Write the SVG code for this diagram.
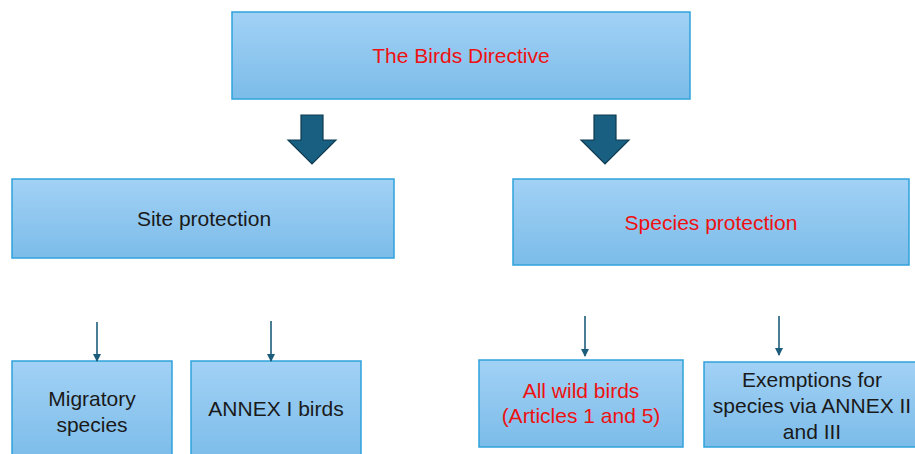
<svg xmlns="http://www.w3.org/2000/svg" width="915" height="454" viewBox="0 0 915 454">
  <defs>
    <linearGradient id="boxFill" x1="0" y1="0" x2="0" y2="1">
      <stop offset="0" stop-color="#a2d1f5"/>
      <stop offset="1" stop-color="#7bbce9"/>
    </linearGradient>
    <marker id="tip" markerWidth="8" markerHeight="8" refX="7" refY="4" orient="auto" markerUnits="userSpaceOnUse">
      <path d="M0,0 L8,4 L0,8 Z" fill="#1d5d7c"/>
    </marker>
    <style>
      .box { fill: url(#boxFill); stroke: #2fa2da; stroke-width: 1.5; }
      .lbl { font-family: "Liberation Sans", Arial, sans-serif; font-size: 21px; text-anchor: middle; fill: #1a1a1a; }
      .red { fill: #ee1111; }
      .big { fill: #195f81; stroke: #0e3a50; stroke-width: 1.2; }
      .thin { stroke: #1d5d7c; stroke-width: 1.6; fill: none; marker-end: url(#tip); }
    </style>
  </defs>

  <g id="birds-directive">
    <rect class="box" x="232" y="12" width="458" height="87"/>
    <text class="lbl red" x="461" y="63">The Birds Directive</text>
  </g>

  <g id="site-protection">
    <rect class="box" x="12" y="179" width="382" height="79"/>
    <text class="lbl" x="204" y="226">Site protection</text>
  </g>

  <g id="species-protection">
    <rect class="box" x="513" y="179" width="396" height="86"/>
    <text class="lbl red" x="711" y="230">Species protection</text>
  </g>

  <g id="migratory-species">
    <rect class="box" x="12" y="361" width="160" height="100"/>
    <text class="lbl" x="92" y="406">Migratory</text>
    <text class="lbl" x="92" y="432">species</text>
  </g>

  <g id="annex-i-birds">
    <rect class="box" x="191" y="361" width="170" height="100"/>
    <text class="lbl" x="276" y="416">ANNEX I birds</text>
  </g>

  <g id="all-wild-birds">
    <rect class="box" x="479" y="360" width="204" height="87"/>
    <text class="lbl red" x="581" y="398">All wild birds</text>
    <text class="lbl red" x="581" y="423">(Articles 1 and 5)</text>
  </g>

  <g id="exemptions">
    <rect class="box" x="704" y="362" width="220" height="85"/>
    <text class="lbl" x="812" y="387">Exemptions for</text>
    <text class="lbl" x="812" y="413">species via ANNEX II</text>
    <text class="lbl" x="812" y="439">and III</text>
  </g>

  <g id="connectors">
    <path class="big" d="M301,115 H323 V140 H336 L312,164 L288,140 H301 Z"/>
    <path class="big" d="M594,115 H616 V140 H629 L605,164 L581,140 H594 Z"/>
    <line class="thin" x1="97" y1="322" x2="97" y2="361"/>
    <line class="thin" x1="271" y1="321" x2="271" y2="361"/>
    <line class="thin" x1="585" y1="316" x2="585" y2="356"/>
    <line class="thin" x1="779" y1="316" x2="779" y2="355"/>
  </g>
</svg>
